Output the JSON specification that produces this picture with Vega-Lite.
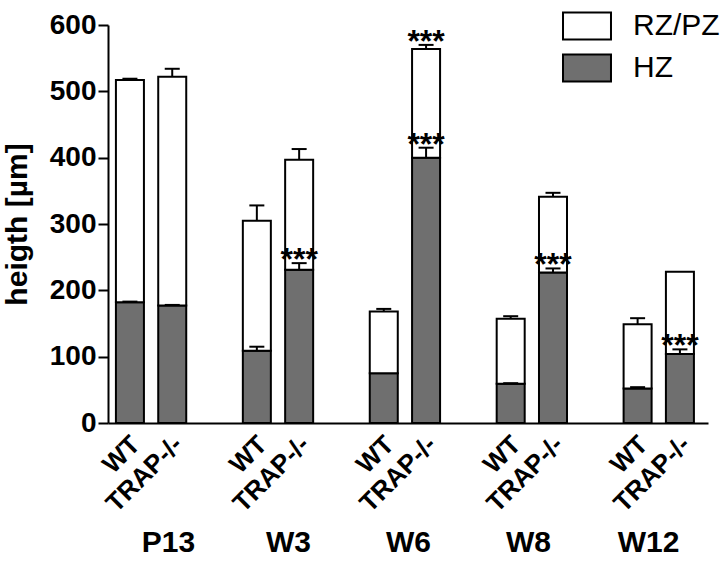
{
  "$schema": "https://vega.github.io/schema/vega-lite/v6.json",
  "width": 600,
  "height": 398,
  "autosize": {"type": "none"},
  "padding": {"left": 108, "top": 25, "right": 17, "bottom": 140},
  "background": "white",
  "config": {
    "view": {"stroke": null},
    "font": "Liberation Sans",
    "axis": {"labelFont": "Liberation Sans", "titleFont": "Liberation Sans", "labelColor": "black", "titleColor": "black", "grid": false}
  },
  "datasets": {
    "bars": [
      {"slot": "P13|WT", "zone": "HZ", "lo": 0, "hi": 182},
      {"slot": "P13|WT", "zone": "RZ/PZ", "lo": 182, "hi": 517},
      {"slot": "P13|TRAP-/-", "zone": "HZ", "lo": 0, "hi": 177},
      {"slot": "P13|TRAP-/-", "zone": "RZ/PZ", "lo": 177, "hi": 522},
      {"slot": "W3|WT", "zone": "HZ", "lo": 0, "hi": 109},
      {"slot": "W3|WT", "zone": "RZ/PZ", "lo": 109, "hi": 305},
      {"slot": "W3|TRAP-/-", "zone": "HZ", "lo": 0, "hi": 231},
      {"slot": "W3|TRAP-/-", "zone": "RZ/PZ", "lo": 231, "hi": 397},
      {"slot": "W6|WT", "zone": "HZ", "lo": 0, "hi": 75},
      {"slot": "W6|WT", "zone": "RZ/PZ", "lo": 75, "hi": 168},
      {"slot": "W6|TRAP-/-", "zone": "HZ", "lo": 0, "hi": 400},
      {"slot": "W6|TRAP-/-", "zone": "RZ/PZ", "lo": 400, "hi": 564},
      {"slot": "W8|WT", "zone": "HZ", "lo": 0, "hi": 59},
      {"slot": "W8|WT", "zone": "RZ/PZ", "lo": 59, "hi": 157},
      {"slot": "W8|TRAP-/-", "zone": "HZ", "lo": 0, "hi": 227},
      {"slot": "W8|TRAP-/-", "zone": "RZ/PZ", "lo": 227, "hi": 341},
      {"slot": "W12|WT", "zone": "HZ", "lo": 0, "hi": 52},
      {"slot": "W12|WT", "zone": "RZ/PZ", "lo": 52, "hi": 149},
      {"slot": "W12|TRAP-/-", "zone": "HZ", "lo": 0, "hi": 104},
      {"slot": "W12|TRAP-/-", "zone": "RZ/PZ", "lo": 104, "hi": 228}
    ],
    "errs": [
      {"slot": "P13|WT", "mean": 182, "upper": 183, "sig": ""},
      {"slot": "P13|WT", "mean": 517, "upper": 519, "sig": ""},
      {"slot": "P13|TRAP-/-", "mean": 177, "upper": 178, "sig": ""},
      {"slot": "P13|TRAP-/-", "mean": 522, "upper": 534, "sig": ""},
      {"slot": "W3|WT", "mean": 109, "upper": 115, "sig": ""},
      {"slot": "W3|WT", "mean": 305, "upper": 328, "sig": ""},
      {"slot": "W3|TRAP-/-", "mean": 231, "upper": 241, "sig": "***"},
      {"slot": "W3|TRAP-/-", "mean": 397, "upper": 413, "sig": ""},
      {"slot": "W6|WT", "mean": 168, "upper": 172, "sig": ""},
      {"slot": "W6|TRAP-/-", "mean": 400, "upper": 415, "sig": "***"},
      {"slot": "W6|TRAP-/-", "mean": 564, "upper": 570, "sig": "***"},
      {"slot": "W8|WT", "mean": 59, "upper": 60, "sig": ""},
      {"slot": "W8|WT", "mean": 157, "upper": 161, "sig": ""},
      {"slot": "W8|TRAP-/-", "mean": 227, "upper": 233, "sig": "***"},
      {"slot": "W8|TRAP-/-", "mean": 341, "upper": 347, "sig": ""},
      {"slot": "W12|WT", "mean": 52, "upper": 54, "sig": ""},
      {"slot": "W12|WT", "mean": 149, "upper": 158, "sig": ""},
      {"slot": "W12|TRAP-/-", "mean": 104, "upper": 111, "sig": "***"}
    ],
    "groups": [
      {"group": "P13"}, {"group": "W3"}, {"group": "W6"}, {"group": "W8"}, {"group": "W12"}
    ]
  },
  "layer": [
    {
      "layer": [
        {
          "data": {"name": "bars"},
          "mark": {"type": "bar", "stroke": "black", "strokeWidth": 2, "strokeJoin": "miter"},
          "encoding": {
            "x": {
              "field": "slot", "type": "nominal",
              "scale": {
                "domain": ["P13|WT", "P13|TRAP-/-", "gap1", "W3|WT", "W3|TRAP-/-", "gap2", "W6|WT", "W6|TRAP-/-", "gap3", "W8|WT", "W8|TRAP-/-", "gap4", "W12|WT", "W12|TRAP-/-"],
                "paddingInner": 0.338, "paddingOuter": 0.26, "align": 0.36
              },
              "axis": {
                "orient": "bottom", "title": null, "ticks": false,
                "domainColor": "black", "domainWidth": 2,
                "labelExpr": "length(split(datum.value,'|')) > 1 ? split(datum.value,'|')[1] : ''",
                "labelAngle": -45, "labelAlign": "right", "labelBaseline": "middle",
                "labelFontSize": 26, "labelFontWeight": "bold", "labelPadding": 17, "labelOffset": 6,
                "labelOverlap": false, "labelBound": false
              }
            },
            "y": {
              "field": "lo", "type": "quantitative",
              "scale": {"domain": [0, 600], "nice": false, "zero": true},
              "axis": {
                "title": "heigth [µm]", "titleFontSize": 30, "titleFontWeight": "bold", "titlePadding": 17,
                "values": [0, 100, 200, 300, 400, 500, 600],
                "domainColor": "black", "domainWidth": 2,
                "tickColor": "black", "tickWidth": 2, "tickSize": 10,
                "labelFontSize": 28, "labelFontWeight": "bold", "labelPadding": 2
              }
            },
            "y2": {"field": "hi"},
            "color": {
              "field": "zone", "type": "nominal",
              "scale": {"domain": ["RZ/PZ", "HZ"], "range": ["#ffffff", "#6f6f6f"]},
              "legend": {
                "orient": "none", "legendX": 455, "legendY": -23,
                "title": null, "padding": 0, "offset": 0,
                "symbolType": "M-1.043,-0.587L1.043,-0.587L1.043,0.587L-1.043,0.587Z",
                "symbolSize": 2116, "symbolStrokeColor": "black", "symbolStrokeWidth": 2,
                "symbolOpacity": 1, "rowPadding": 0, "labelOffset": 22,
                "labelFontSize": 30, "labelFont": "Liberation Sans", "labelColor": "black"
              }
            }
          }
        },
        {
          "data": {"name": "errs"},
          "mark": {"type": "rule", "color": "black", "strokeWidth": 2},
          "encoding": {
            "x": {"field": "slot", "type": "nominal"},
            "y": {"field": "mean", "type": "quantitative"},
            "y2": {"field": "upper"}
          }
        },
        {
          "data": {"name": "errs"},
          "mark": {"type": "tick", "color": "black", "size": 15, "thickness": 2, "opacity": 1},
          "encoding": {
            "x": {"field": "slot", "type": "nominal"},
            "y": {"field": "upper", "type": "quantitative"}
          }
        },
        {
          "data": {"name": "errs"},
          "mark": {"type": "text", "fontSize": 32, "fontWeight": "bold", "baseline": "alphabetic", "align": "center", "dy": 7, "color": "black"},
          "encoding": {
            "x": {"field": "slot", "type": "nominal"},
            "y": {"field": "upper", "type": "quantitative"},
            "text": {"field": "sig"}
          }
        }
      ]
    },
    {
      "data": {"name": "groups"},
      "mark": {"type": "text", "text": ""},
      "encoding": {
        "x": {
          "field": "group", "type": "nominal",
          "scale": {"domain": ["P13", "W3", "W6", "W8", "W12"], "paddingInner": 0.276, "paddingOuter": 0},
          "axis": {
            "orient": "bottom", "offset": 104, "title": null, "domain": false, "ticks": false,
            "labelAngle": 0, "labelFontSize": 30, "labelFontWeight": "bold", "labelPadding": 0,
            "labelBaseline": "top", "labelAlign": "center"
          }
        },
        "y": {"datum": 0, "type": "quantitative"}
      }
    }
  ],
  "resolve": {"scale": {"x": "independent"}, "axis": {"x": "independent"}}
}
